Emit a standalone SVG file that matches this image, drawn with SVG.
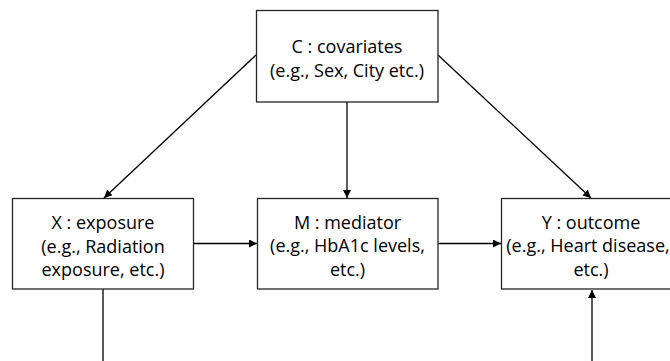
<svg xmlns="http://www.w3.org/2000/svg" width="670" height="361" viewBox="0 0 670 361">
<style>
.box{fill:#fff;stroke:#262626;stroke-width:1.3}
.t{font-family:"Open Sans","Noto Sans","DejaVu Sans",sans-serif;font-size:18px;fill:#000;text-anchor:middle}
.c{fill:none;stroke:#000;stroke-width:1.3}
</style>
<defs>
<marker id="ah" viewBox="0 0 10 10" refX="10" refY="5" markerWidth="8" markerHeight="8" markerUnits="userSpaceOnUse" orient="auto">
<path d="M0,0 L10,5 L0,10 z" fill="#000"/>
</marker>
</defs>
<rect width="670" height="361" fill="#fff"/>
<g id="connectors">
<line class="c" x1="256" y1="55" x2="104" y2="198" marker-end="url(#ah)"/>
<line class="c" x1="438" y1="55" x2="591" y2="198" marker-end="url(#ah)"/>
<line class="c" x1="347" y1="102" x2="347" y2="198" marker-end="url(#ah)"/>
<line class="c" x1="193" y1="243.5" x2="257" y2="243.5" marker-end="url(#ah)"/>
<line class="c" x1="438" y1="243.5" x2="501" y2="243.5" marker-end="url(#ah)"/>
<line class="c" x1="103" y1="289" x2="103" y2="361"/>
<line class="c" x1="592" y1="361" x2="592" y2="290" marker-end="url(#ah)"/>
</g>
<g id="C">
<rect class="box" x="256.5" y="10.5" width="181.5" height="91.5"/>
<text class="t" x="347" y="53">C : covariates</text>
<text class="t" x="347" y="77">(e.g., Sex, City etc.)</text>
</g>
<g id="X">
<rect class="box" x="12.5" y="198.5" width="181" height="90.5"/>
<text class="t" x="103" y="229">X : exposure</text>
<text class="t" x="103" y="252.5">(e.g., Radiation</text>
<text class="t" x="103" y="276">exposure, etc.)</text>
</g>
<g id="M">
<rect class="box" x="257.5" y="198.5" width="180.5" height="90.5"/>
<text class="t" x="347.5" y="228.5">M : mediator</text>
<text class="t" x="347.5" y="252">(e.g., HbA1c levels,</text>
<text class="t" x="347.5" y="275.5">etc.)</text>
</g>
<g id="Y">
<rect class="box" x="501.5" y="198.5" width="181" height="90.5"/>
<text class="t" x="591" y="228.5">Y : outcome</text>
<text class="t" x="588" y="252">(e.g., Heart disease,</text>
<text class="t" x="591" y="275.5">etc.)</text>
</g>
</svg>
